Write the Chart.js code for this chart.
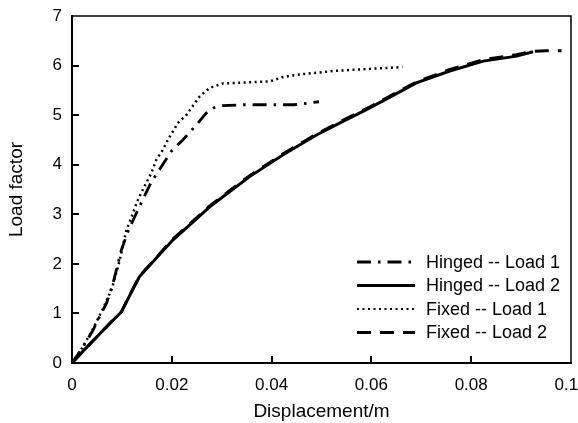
<!DOCTYPE html>
<html>
<head>
<meta charset="utf-8">
<script src="https://cdn.jsdelivr.net/npm/chart.js@4.4.0/dist/chart.umd.min.js"></script>
<style>
  html, body { margin: 0; padding: 0; background: #fff; }
  #wrap { width: 578px; height: 423px; }
</style>
</head>
<body>
<div id="wrap"><canvas id="loadChart" width="578" height="423"></canvas></div>
<script>
// displacement (m) / load factor pairs for each support + load case
const hingedLoad1X = [0, 0.0022, 0.0042, 0.0055, 0.0069, 0.0082, 0.0092, 0.0099, 0.0112, 0.0128, 0.0142, 0.0159, 0.0179, 0.0199, 0.0222, 0.0249, 0.0269, 0.0285, 0.0302, 0.0343, 0.041, 0.0446, 0.0495];
const hingedLoad1Y = [0, 0.32, 0.66, 0.93, 1.2, 1.6, 2.0, 2.28, 2.65, 3.0, 3.3, 3.65, 3.96, 4.27, 4.5, 4.8, 5.04, 5.15, 5.19, 5.21, 5.21, 5.21, 5.27];

const hingedLoad2X = [0, 0.0025, 0.005, 0.0075, 0.0099, 0.0115, 0.0135, 0.017, 0.0202, 0.024, 0.0276, 0.0315, 0.0356, 0.0423, 0.049, 0.054, 0.059, 0.064, 0.069, 0.0757, 0.0824, 0.0891, 0.0924];
const hingedLoad2Y = [0, 0.27, 0.53, 0.79, 1.03, 1.35, 1.74, 2.13, 2.48, 2.82, 3.15, 3.45, 3.76, 4.2, 4.6, 4.86, 5.11, 5.38, 5.65, 5.89, 6.09, 6.19, 6.28];

const fixedLoad1X = [0, 0.002, 0.004, 0.006, 0.008, 0.0095, 0.0109, 0.0122, 0.0132, 0.0145, 0.0159, 0.0169, 0.0182, 0.0192, 0.0212, 0.0229, 0.0256, 0.0276, 0.0302, 0.0349, 0.0396, 0.0423, 0.0456, 0.0523, 0.059, 0.0662];
const fixedLoad1Y = [0, 0.3, 0.65, 1.05, 1.5, 2.05, 2.68, 3.02, 3.29, 3.56, 3.83, 4.1, 4.3, 4.5, 4.84, 5.0, 5.38, 5.55, 5.64, 5.66, 5.68, 5.77, 5.82, 5.89, 5.93, 5.97];

const fixedLoad2X = [0, 0.0025, 0.005, 0.0075, 0.0099, 0.0115, 0.0135, 0.017, 0.0202, 0.024, 0.0276, 0.0315, 0.0356, 0.0423, 0.049, 0.054, 0.059, 0.064, 0.069, 0.0757, 0.0824, 0.0891, 0.0924, 0.095, 0.0981];
const fixedLoad2Y = [0, 0.27, 0.53, 0.79, 1.03, 1.36, 1.75, 2.14, 2.5, 2.84, 3.17, 3.47, 3.78, 4.22, 4.62, 4.88, 5.13, 5.4, 5.67, 5.92, 6.12, 6.22, 6.29, 6.3, 6.3];

const seriesNames = ['Hinged -- Load 1', 'Hinged -- Load 2', 'Fixed -- Load 1', 'Fixed -- Load 2'];
const xTicks = [0, 0.02, 0.04, 0.06, 0.08, 0.1];
const yTicks = [0, 1, 2, 3, 4, 5, 6, 7];

const FONT = '"Liberation Sans", Arial, sans-serif';

// line dash + width per series, reused by the legend
const lineStyles = [
  { dash: [14, 7, 2.5, 7], width: 2.8 },
  { dash: [], width: 3 },
  { dash: [2, 3.5], width: 2.5 },
  { dash: [14, 9], width: 3 }
];

function pairs(xs, ys) {
  return xs.map((x, i) => ({ x: x, y: ys[i] }));
}

const seriesData = [
  pairs(hingedLoad1X, hingedLoad1Y),
  pairs(hingedLoad2X, hingedLoad2Y),
  pairs(fixedLoad1X, fixedLoad1Y),
  pairs(fixedLoad2X, fixedLoad2Y)
];

const datasets = seriesData.map((data, i) => ({
  label: seriesNames[i],
  data: data,
  showLine: true,
  borderColor: '#000',
  borderWidth: lineStyles[i].width,
  borderDash: lineStyles[i].dash,
  pointRadius: 0
}));

// top/right frame, inward tick marks and the legend in the lower right
const framePlugin = {
  id: 'framePlugin',
  afterDraw(chart) {
    const ctx = chart.ctx;
    const a = chart.chartArea;
    const xs = chart.scales.x;
    const ys = chart.scales.y;
    ctx.save();
    ctx.strokeStyle = '#000';
    ctx.fillStyle = '#000';
    ctx.lineWidth = 1.5;
    ctx.beginPath();
    ctx.moveTo(a.left, a.top);
    ctx.lineTo(a.right, a.top);
    ctx.lineTo(a.right, a.bottom);
    ctx.stroke();

    xTicks.slice(1, -1).forEach(v => {
      const px = Math.round(xs.getPixelForValue(v));
      ctx.fillRect(px - 1, a.bottom - 7, 2, 7);
    });
    yTicks.slice(1, -1).forEach(v => {
      const py = Math.round(ys.getPixelForValue(v));
      ctx.fillRect(a.left, py - 1, 7, 2);
    });

    const lx0 = 357, lx1 = 415, tx = 426;
    const rows = [262, 285.5, 309, 332.5];
    ctx.font = '18px ' + FONT;
    ctx.textBaseline = 'middle';
    ctx.textAlign = 'left';
    seriesNames.forEach((name, i) => {
      const y = rows[i];
      ctx.lineWidth = i === 2 ? 2 : 3;
      ctx.setLineDash(lineStyles[i].dash);
      ctx.beginPath();
      ctx.moveTo(lx0, y);
      ctx.lineTo(lx1, y);
      ctx.stroke();
      ctx.setLineDash([]);
      ctx.fillText(name, tx, y + 1);
    });
    ctx.restore();
  }
};

new Chart(document.getElementById('loadChart'), {
  type: 'scatter',
  data: { datasets: datasets },
  plugins: [framePlugin],
  options: {
    responsive: false,
    animation: false,
    layout: { padding: { top: 16, right: 7, left: 0, bottom: 0 } },
    plugins: {
      legend: { display: false },
      tooltip: { enabled: false }
    },
    scales: {
      x: {
        type: 'linear',
        min: 0,
        max: 0.1,
        afterFit(scale) {
          scale.height = 60;
          scale.paddingLeft = 0;
          scale.paddingRight = 0;
        },
        afterBuildTicks(scale) { scale.ticks = xTicks.map(v => ({ value: v })); },
        ticks: { padding: 12, color: '#000', font: { family: FONT, size: 17 } },
        grid: { display: false, drawTicks: false },
        border: { display: true, color: '#000', width: 2 },
        title: {
          display: true,
          text: 'Displacement/m',
          color: '#000',
          font: { family: FONT, size: 19 },
          padding: 0
        }
      },
      y: {
        type: 'linear',
        min: 0,
        max: 7,
        afterFit(scale) {
          scale.width = 72;
          scale.paddingTop = 0;
          scale.paddingBottom = 0;
        },
        ticks: { stepSize: 1, padding: 10, color: '#000', font: { family: FONT, size: 17 } },
        grid: { display: false, drawTicks: false },
        border: { display: true, color: '#000', width: 2 },
        title: {
          display: true,
          text: 'Load factor',
          color: '#000',
          font: { family: FONT, size: 19 },
          padding: { top: 5, bottom: 7 }
        }
      }
    }
  }
});
</script>
</body>
</html>
